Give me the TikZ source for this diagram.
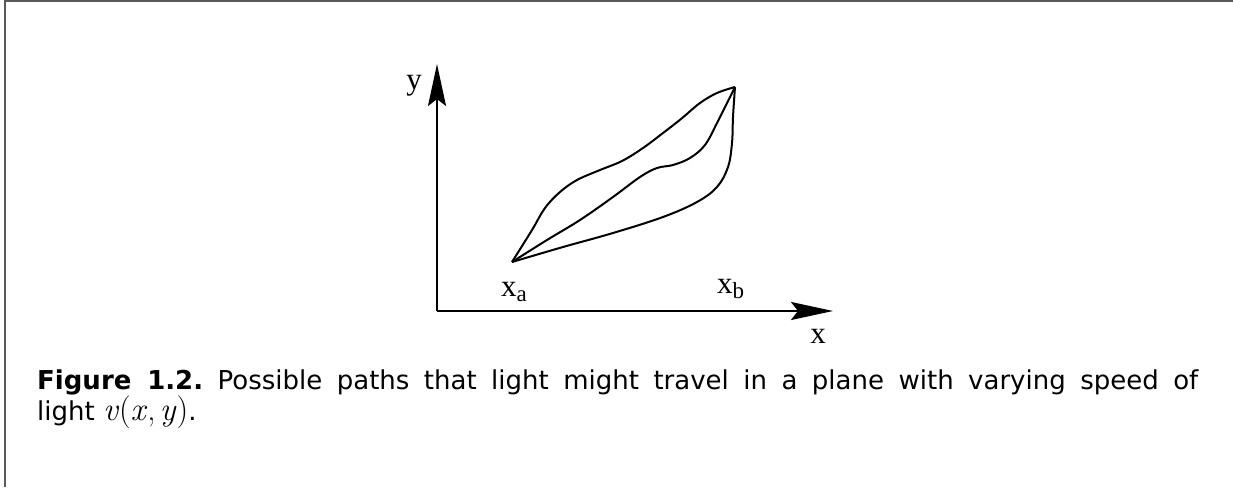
\documentclass[tikz,border=0pt]{standalone}
\usepackage{fontspec}
\setmainfont{DejaVu Sans}
\newfontfamily\labelfont{Liberation Serif}
\usetikzlibrary{arrows.meta}
\frenchspacing
\tikzset{
  axis/.style={line width=2.4pt, -{Stealth[length=42pt,width=18pt,inset=7pt]}},
  path curve/.style={line width=2pt, line join=round},
  lbl/.style={font=\labelfont\fontsize{31}{31}\selectfont, inner sep=0pt},
  border/.style={draw=black!65, line width=2.5pt}
}
\newcommand{\lsub}[2]{#1\raisebox{-5pt}{\fontsize{23}{23}\selectfont #2}}
\newcommand{\lmi}[1]{{\fontfamily{lmr}\fontsize{33}{31}\selectfont\itshape #1\/}}
\newcommand{\lmu}[1]{{\fontfamily{lmr}\fontsize{33}{31}\selectfont\upshape #1}}
\begin{document}
\begin{tikzpicture}[x=1pt,y=-1pt]
\useasboundingbox (0,0) rectangle (1233,487);
\draw[border] (1233,1.2) -- (5,1.2) -- (5,487);
% axes
\coordinate (O) at (437,311);
\coordinate (ytip) at (437,64);
\coordinate (xtip) at (833,311);
\draw[axis] (O) -- (ytip);
\draw[axis] (O) -- (xtip);
\node[lbl, anchor=base] (ylab) at (414,89) {y};
\node[lbl, anchor=base] (xlab) at (818,343) {x};
% end points
\coordinate (A) at (512,262);
\coordinate (B) at (735,87);
\node[lbl, anchor=base west] (xa) at (501,296) {\lsub{x}{a}};
\node[lbl, anchor=base west] (xb) at (717,293) {\lsub{x}{b}};
% paths
\draw[path curve] plot[smooth, tension=0.6] coordinates {(A) (532,230) (545,208) (560,192) (577,180) (600,170) (622,161) (643,148) (663,133) (681,119) (700,103) (717,93) (B)};
\draw[path curve] plot[smooth, tension=0.6] coordinates {(A) (547,240) (580,220) (613,197) (640,177) (657,168) (673,165) (690,158) (705,145) (717,123) (727,103) (B)};
\draw[path curve] plot[smooth, tension=0.6] coordinates {(A) (563,247) (613,233) (663,217) (697,202) (717,187) (728,167) (732,143) (733,117) (B)};
% caption
\node[anchor=base west, inner sep=0pt, text width=1161pt, align=justify,
      font=\fontsize{26}{31}\selectfont] (cap) at (37,389)
  {\textbf{Figure 1.2.} Possible paths that light might travel in a plane with varying speed of\linebreak light \lmi{v}\lmu{(}\lmi{x}\lmu{,}\,\lmi{y}\lmu{)}.};
\end{tikzpicture}
\end{document}
